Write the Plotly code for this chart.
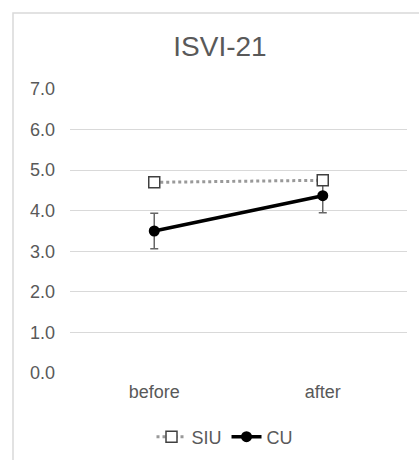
import plotly.graph_objects as go

categories = ["before", "after"]
siu_values = [4.70, 4.75]
cu_values = [3.50, 4.37]
cu_err = [0.44, 0.42]
y_ticks = [0, 1, 2, 3, 4, 5, 6, 7]
y_tick_labels = ["0.0", "1.0", "2.0", "3.0", "4.0", "5.0", "6.0", "7.0"]

fig = go.Figure()
fig.add_trace(go.Scatter(
    x=categories, y=cu_values, name="CU", mode="lines+markers", legendrank=2,
    line=dict(color="black", width=3.5),
    marker=dict(symbol="circle", size=11, color="black"),
    error_y=dict(type="data", array=cu_err, color="#666666", thickness=1.5, width=4),
))
fig.add_trace(go.Scatter(
    x=categories, y=siu_values, name="SIU", mode="lines+markers", legendrank=1,
    line=dict(color="#999999", width=3, dash="dot"),
    marker=dict(symbol="square", size=11, color="white",
                line=dict(color="#404040", width=1.5)),
))

fig.update_layout(
    width=419, height=460,
    margin=dict(l=70, r=12, t=89, b=87, autoexpand=False),
    paper_bgcolor="white", plot_bgcolor="white",
    font=dict(family="Liberation Sans, Arial, sans-serif", color="#595959", size=18),
    title=dict(text="ISVI-21", x=220 / 419, xanchor="center", y=1 - 46 / 460, yanchor="middle",
               font=dict(size=28, color="#595959")),
    xaxis=dict(type="category", range=[-0.5, 1.5], showgrid=False, showline=False,
               zeroline=False, ticks="", ticklabelstandoff=6,
               tickfont=dict(size=18, color="#595959")),
    yaxis=dict(range=[0, 7], tickvals=y_ticks, ticktext=y_tick_labels,
               showgrid=True, gridcolor="#d9d9d9", gridwidth=1, zeroline=False,
               showline=False, ticks="", ticklabelstandoff=14,
               tickfont=dict(size=18, color="#595959")),
    legend=dict(orientation="h", x=225 / 419, xref="container", xanchor="center",
                y=1 - 437 / 460, yref="container", yanchor="middle",
                font=dict(size=18, color="#595959")),
    showlegend=True,
    shapes=[dict(type="rect", xref="paper", yref="paper",
                 x0=(13 - 70) / 337, x1=1.2, y0=-0.5, y1=1 + (89 - 13) / 284,
                 line=dict(color="#d9d9d9", width=1.5), fillcolor="rgba(0,0,0,0)", layer="below")],
)

fig.write_html("out.html", config={"displayModeBar": False},
               post_script="document.body.style.margin='0';document.body.style.overflow='hidden';")
